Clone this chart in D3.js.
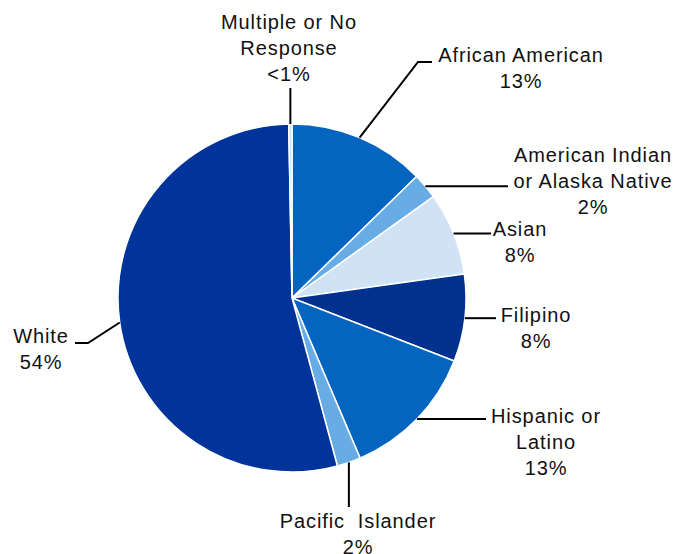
<!DOCTYPE html>
<html>
	<head>
		<meta charset="utf-8">
		<script src="https://cdn.jsdelivr.net/npm/d3@7"></script>
		<style>
			body { margin: 0; background: #fff; }
			text { font-family: "Liberation Sans", Arial, sans-serif; font-size: 20px; letter-spacing: 0.9px; fill: #111; }
		</style>
	</head>
	<body>
		<script>
			"use strict";

			// slice order clockwise from 12 o'clock
			var groups  = ["African American", "American Indian or Alaska Native", "Asian", "Filipino",
			               "Hispanic or Latino", "Pacific Islander", "White", "Multiple or No Response"];
			var shares  = [12.7, 2.4, 7.7, 8.1, 12.7, 2.2, 53.9, 0.3];
			var pctText = ["13%", "2%", "8%", "8%", "13%", "2%", "54%", "<1%"];
			var labelLines = [["African American"], ["American Indian", "or Alaska Native"], ["Asian"], ["Filipino"],
			                  ["Hispanic or", "Latino"], ["Pacific  Islander"], ["White"], ["Multiple or No", "Response"]];
			var colors  = ["#0365c0", "#68ace6", "#cfe3f5", "#00318f", "#0365c0", "#68ace6", "#00349a", "#cfe3f5"];

			// label layout: text centre x, first baseline, leader elbow / end
			var layout = [
				{ tx: 521, ty: 62,  elbow: [418, 62],  end: [432, 62] },
				{ tx: 593, ty: 162, end: [508, null] },
				{ tx: 520, ty: 236, end: [491, null] },
				{ tx: 536, ty: 322, end: [496, null] },
				{ tx: 546, ty: 423, end: [486, null] },
				{ tx: 358, ty: 528, end: [null, 507] },
				{ tx: 41,  ty: 343, elbow: [88, 343],  end: [75, 343] },
				{ tx: 289, ty: 29,  end: [null, 88] }
			];

			var W = 680, H = 554, cx = 292, cy = 298, R = 174;

			var svg = d3.select("body").append("svg")
				.attr("width", W).attr("height", H);

			var pie = d3.pie().sort(null).value(function(d){ return d; });
			var arcs = pie(shares);
			var arc = d3.arc().innerRadius(0).outerRadius(R);

			var g = svg.append("g").attr("transform", "translate(" + cx + "," + cy + ")");

			g.selectAll("path.slice").data(arcs).enter().append("path")
				.attr("class", "slice")
				.attr("d", arc)
				.attr("fill", function(d, i){ return colors[i]; })
				.attr("stroke", "#fff")
				.attr("stroke-width", 1.5);

			function edgePoint(d){
				var a = (d.startAngle + d.endAngle) / 2;
				return [cx + R * Math.sin(a), cy - R * Math.cos(a)];
			}

			var line = d3.line();
			svg.selectAll("path.leader").data(arcs).enter().append("path")
				.attr("class", "leader")
				.attr("d", function(d, i){
					var p = edgePoint(d), L = layout[i], pts = [p];
					if (L.elbow) pts.push(L.elbow);
					var e = [L.end[0] == null ? p[0] : L.end[0], L.end[1] == null ? p[1] : L.end[1]];
					pts.push(e);
					return line(pts);
				})
				.attr("fill", "none")
				.attr("stroke", "#000")
				.attr("stroke-width", 2);

			var labels = svg.selectAll("text.lbl").data(arcs).enter().append("text")
				.attr("class", "lbl")
				.attr("text-anchor", "middle");

			labels.each(function(d, i){
				var t = d3.select(this), L = layout[i];
				var lines = labelLines[i].concat([pctText[i]]);
				lines.forEach(function(s, k){
					t.append("tspan")
						.attr("x", L.tx)
						.attr("y", L.ty + k * 26)
						.attr("xml:space", "preserve")
						.style("white-space", "pre")
						.text(s);
				});
			});
		</script>
	</body>
</html>
